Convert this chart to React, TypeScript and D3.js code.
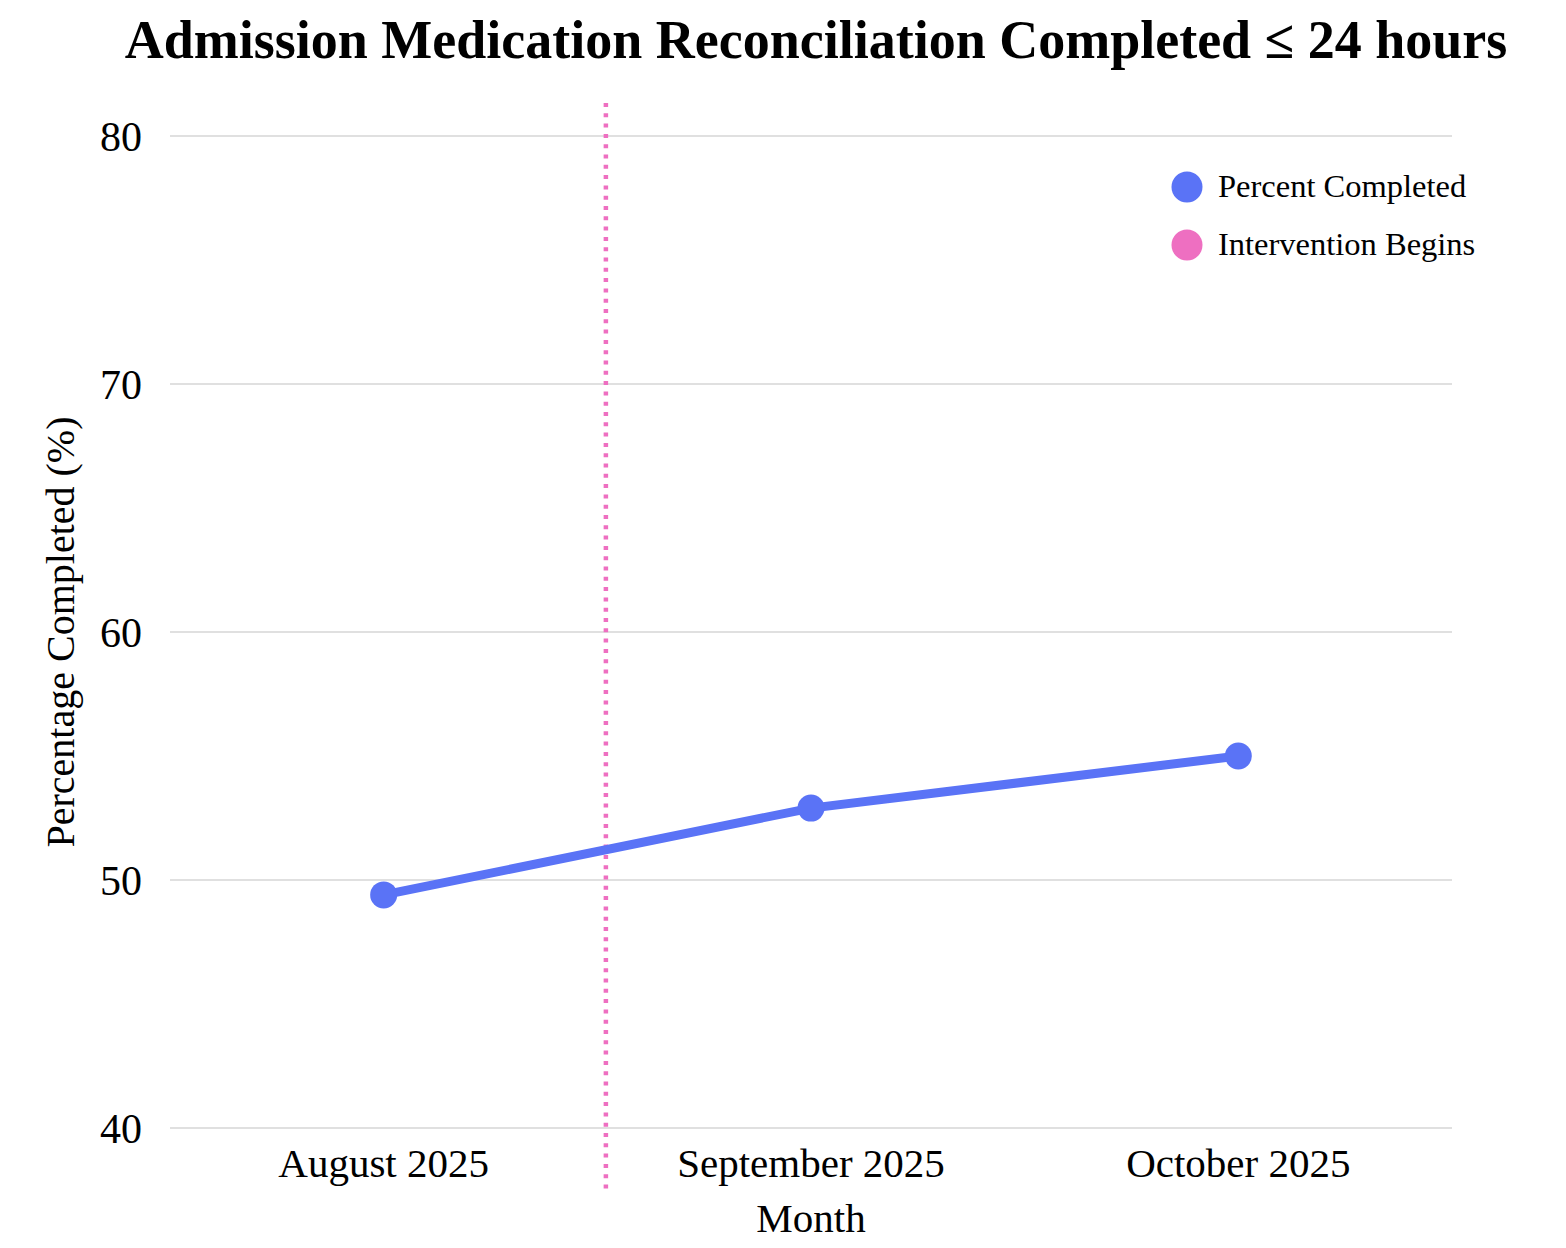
import { useEffect, useRef } from 'react';
import * as d3 from 'd3';

const WIDTH = 1566;
const HEIGHT = 1248;
const MARGIN = { top: 136, right: 114, bottom: 120, left: 170 };

const FONT = '"Liberation Serif", "Times New Roman", serif';
const BLUE = '#5a73f6';
const PINK = '#ee6fc1';

const months = ['August 2025', 'September 2025', 'October 2025'];
const percentCompleted = [49.4, 52.9, 55.0];
const yTicks = [40, 50, 60, 70, 80];
const legendItems = ['Percent Completed', 'Intervention Begins'];
// intervention falls a little past the midpoint between Aug and Sep
const interventionAfter = 'August 2025';
const interventionOffset = 0.52;

export default function App() {
  const svgRef = useRef<SVGSVGElement | null>(null);

  useEffect(() => {
    const svg = d3.select(svgRef.current);
    svg.selectAll('*').remove();

    const x = d3.scalePoint<string>()
      .domain(months)
      .range([MARGIN.left, WIDTH - MARGIN.right])
      .padding(0.5);

    const y = d3.scaleLinear()
      .domain([40, 80])
      .range([HEIGHT - MARGIN.bottom, MARGIN.top]);

    const data = months.map((m, i) => ({ month: m, value: percentCompleted[i] }));

    // grid
    svg.append('g')
      .selectAll('line')
      .data(yTicks)
      .join('line')
      .attr('x1', MARGIN.left)
      .attr('x2', WIDTH - MARGIN.right)
      .attr('y1', (d) => y(d))
      .attr('y2', (d) => y(d))
      .attr('stroke', '#d6d6d6')
      .attr('stroke-width', 1.5);

    // y tick labels
    svg.append('g')
      .selectAll('text')
      .data(yTicks)
      .join('text')
      .attr('x', 142)
      .attr('y', (d) => y(d))
      .attr('dy', '0.35em')
      .attr('text-anchor', 'end')
      .attr('font-family', FONT)
      .attr('font-size', 42)
      .attr('fill', '#000')
      .text((d) => d);

    // x tick labels
    svg.append('g')
      .selectAll('text')
      .data(months)
      .join('text')
      .attr('x', (d) => x(d) ?? 0)
      .attr('y', 1177)
      .attr('text-anchor', 'middle')
      .attr('font-family', FONT)
      .attr('font-size', 41)
      .attr('fill', '#000')
      .text((d) => d);

    // axis titles
    svg.append('text')
      .attr('x', (MARGIN.left + WIDTH - MARGIN.right) / 2)
      .attr('y', 1232)
      .attr('text-anchor', 'middle')
      .attr('font-family', FONT)
      .attr('font-size', 41)
      .text('Month');

    svg.append('text')
      .attr('transform', `translate(74,${(412 + 852) / 2}) rotate(-90)`)
      .attr('text-anchor', 'middle')
      .attr('font-family', FONT)
      .attr('font-size', 40)
      .text('Percentage Completed (%)');

    // title
    svg.append('text')
      .attr('x', 816)
      .attr('y', 58)
      .attr('text-anchor', 'middle')
      .attr('font-family', FONT)
      .attr('font-weight', 'bold')
      .attr('font-size', 54)
      .text('Admission Medication Reconciliation Completed ≤ 24 hours');

    // intervention line
    const ix = (x(interventionAfter) ?? 0) + x.step() * interventionOffset;
    svg.append('line')
      .attr('x1', ix)
      .attr('x2', ix)
      .attr('y1', 103)
      .attr('y2', 1192)
      .attr('stroke', PINK)
      .attr('stroke-width', 4.5)
      .attr('stroke-dasharray', '4 6.3');

    // series
    const line = d3.line<{ month: string; value: number }>()
      .x((d) => x(d.month) ?? 0)
      .y((d) => y(d.value));

    svg.append('path')
      .datum(data)
      .attr('d', line)
      .attr('fill', 'none')
      .attr('stroke', BLUE)
      .attr('stroke-width', 9);

    svg.append('g')
      .selectAll('circle')
      .data(data)
      .join('circle')
      .attr('cx', (d) => x(d.month) ?? 0)
      .attr('cy', (d) => y(d.value))
      .attr('r', 13.5)
      .attr('fill', BLUE);

    // legend
    const legend = svg.append('g')
      .selectAll('g')
      .data(legendItems)
      .join('g')
      .attr('transform', (_, i) => `translate(1187,${187 + i * 58})`);

    legend.append('circle')
      .attr('r', 15.5)
      .attr('fill', (_, i) => (i === 0 ? BLUE : PINK));

    legend.append('text')
      .attr('x', 31)
      .attr('y', 10)
      .attr('font-family', FONT)
      .attr('font-size', 32.5)
      .attr('fill', '#000')
      .text((d) => d);
  }, []);

  return (
    <div style={{ position: 'absolute', top: 0, left: 0 }}>
      <svg
        ref={svgRef}
        width={WIDTH}
        height={HEIGHT}
        viewBox={`0 0 ${WIDTH} ${HEIGHT}`}
        style={{ display: 'block', background: '#fff' }}
      />
    </div>
  );
}
